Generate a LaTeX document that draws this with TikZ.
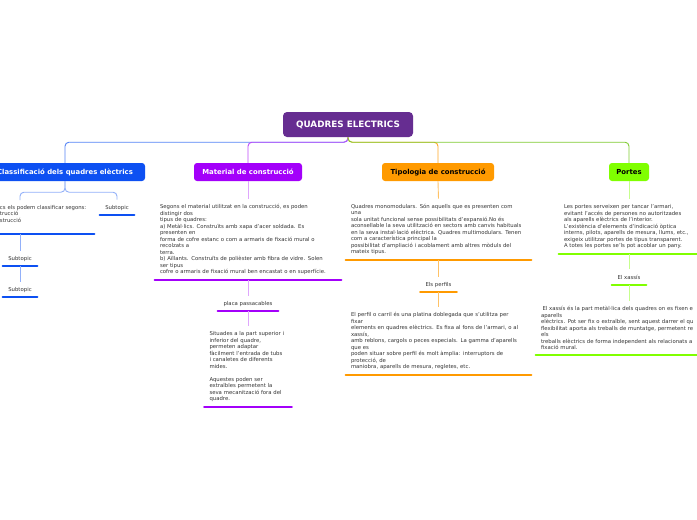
\documentclass[tikz,border=0pt]{standalone}
\usepackage{fontspec}
\setmainfont{DejaVu Sans}
\usepackage{tikz}
\usetikzlibrary{calc}

\definecolor{rootc}{HTML}{662D91}
\definecolor{bluec}{HTML}{0D50F2}
\definecolor{purpc}{HTML}{A300FA}
\definecolor{orngc}{HTML}{FF9A00}
\definecolor{grenc}{HTML}{80FF00}
\newcommand{\cutl}{\hspace*{49pt}}

\begin{document}
\begin{tikzpicture}[x=1pt,y=-1pt,
  font=\fontsize{5.35}{6.5}\selectfont,
  root/.style={fill=rootc,rounded corners=4pt,text=white,
               font=\fontsize{8.8}{10}\selectfont\bfseries,
               minimum width=130pt,minimum height=25pt},
  topic/.style={rounded corners=3pt,font=\fontsize{6.9}{8}\selectfont\bfseries,
                minimum height=18pt,inner xsep=2pt},
  note/.style={anchor=south,align=left,inner xsep=5pt,inner ysep=5pt,
               text=black!80},
  lab/.style={anchor=south,inner xsep=0pt,inner ysep=5.5pt,text depth=0pt,
              text=black!80},
  bar/.style={line width=2.6pt,line cap=round},
  link/.style={line width=0.9pt,rounded corners=4pt},
]
\clip (0,0) rectangle (697,520);
\fill[white] (0,0) rectangle (697,520);

% ---- centre and main topics --------------------------------------------
\node[root] (root) at (348,124.5) {QUADRES ELECTRICS};
\node[topic,fill=bluec,text=white,minimum width=160pt] (cls) at (65,172)
  {Classificació dels quadres elèctrics};
\node[topic,fill=purpc,text=white,minimum width=108pt] (mat) at (248,172)
  {Material de construcció};
\node[topic,fill=orngc,text=black,minimum width=112pt] (tip) at (438,172)
  {Tipologia de construcció};
\node[topic,fill=grenc,text=black,minimum width=40pt] (por) at (629,172)
  {Portes};

\draw[link,bluec!70!white] (root.south) -- ++(0,5) -| (cls.north);
\draw[link,purpc!70!white] (root.south) -- ++(0,5) -| (mat.north);
\draw[link,orngc!85!white] (root.south) -- ++(0,5) -| (tip.north);
\draw[link,grenc!75!black!80!white] (root.south) -- ++(0,5) -| (por.north);

% ---- classificacio ------------------------------------------------------
\node[note,text width=138pt] (cln) at (20,234)
  {\cutl cs els podem classificar segons:\\
   \cutl trucció\\
   \cutl strucció\\ ~};
\node[lab,minimum width=34pt] (sb1) at (117,215) {Subtopic};
\node[lab,minimum width=34pt] (sb2) at (20,266) {Subtopic};
\node[lab,minimum width=34pt] (sb3) at (20,297) {Subtopic};
\foreach \n in {cln,sb1,sb2,sb3}
  \draw[bar,bluec] (\n.south west) -- (\n.south east);
\draw[link,bluec!45!white] (cls.south) -- ++(0,11) -| (cln.north);
\draw[link,bluec!45!white] (cls.south) -- ++(0,11) -| (sb1.north);
\draw[link,bluec!45!white] (cln.south) -- (sb2.north);
\draw[link,bluec!45!white] (sb2.south) -- (sb3.north);

% ---- material -----------------------------------------------------------
\node[note,text width=176pt] (mtx) at (248,280)
  {Segons el material utilitzat en la construcció, es poden\\
   distingir dos\\
   tipus de quadres:\\
   a) Metàl·lics. Construïts amb xapa d'acer soldada. Es\\
   presenten en\\
   forma de cofre estanc o com a armaris de fixació mural o\\
   recolzats a\\
   terra.\\
   b) Aïllants. Construïts de polièster amb fibra de vidre. Solen\\
   ser tipus\\
   cofre o armaris de fixació mural ben encastat o en superfície.};
\node[lab,minimum width=60pt] (plc) at (248,311) {placa passacables};
\node[note,text width=77pt] (ptx) at (248,407)
  {Situades a la part superior i\\
   inferior del quadre,\\
   permeten adaptar\\
   fàcilment l'entrada de tubs\\
   i canaletes de diferents\\
   mides.\\[6.5pt]
   Aquestes poden ser\\
   extraïbles permetent la\\
   seva mecanització fora del\\
   quadre.};
\foreach \n in {mtx,plc,ptx}
  \draw[bar,purpc] (\n.south west) -- (\n.south east);
\draw[link,purpc!35!white] (mat.south) -- (mtx.north);
\draw[link,purpc!35!white] (mtx.south) -- (plc.north);
\draw[link,purpc!35!white] (plc.south) -- (ptx.north);

% ---- tipologia ----------------------------------------------------------
\node[note,text width=175pt] (ttx) at (438.5,260)
  {Quadres monomodulars. Són aquells que es presenten com\\
   una\\
   sola unitat funcional sense possibilitats d'expansió.No és\\
   aconsellable la seva utilització en sectors amb canvis habituals\\
   en la seva instal·lació elèctrica. Quadres multimodulars. Tenen\\
   com a característica principal la\\
   possibilitat d'ampliació i acoblament amb altres mòduls del\\
   mateix tipus.};
\node[lab,minimum width=36pt] (prf) at (438.5,292) {Els perfils};
\node[note,text width=175pt] (rtx) at (438.5,375)
  {El perfil o carril és una platina doblegada que s'utilitza per\\
   fixar\\
   elements en quadres elèctrics. Es fixa al fons de l'armari, o al\\
   xassís,\\
   amb reblons, cargols o peces especials. La gamma d'aparells\\
   que es\\
   poden situar sobre perfil és molt àmplia: interruptors de\\
   protecció, de\\
   maniobra, aparells de mesura, regletes, etc.};
\foreach \n in {ttx,prf,rtx}
  \draw[bar,orngc] (\n.south west) -- (\n.south east);
\draw[link,orngc!60!white] (tip.south) -- (ttx.north);
\draw[link,orngc!60!white] (ttx.south) -- (prf.north);
\draw[link,orngc!60!white] (prf.south) -- (rtx.north);

% ---- portes -------------------------------------------------------------
\node[note,text width=130pt] (gtx) at (629,254)
  {Les portes serveixen per tancar l'armari,\\
   evitant l'accés de persones no autoritzades\\
   als aparells elèctrics de l'interior.\\
   L'existència d'elements d'indicació òptica\\
   interns, pilots, aparells de mesura, llums, etc.,\\
   exigeix utilitzar portes de tipus transparent.\\
   A totes les portes se'ls pot acoblar un pany.};
\node[lab,minimum width=34pt] (xas) at (629,285) {El xassís};
\node[note,text width=176pt] (xtx) at (629,355)
  {\hspace*{1.5pt}El xassís és la part metàl·lica dels quadres on es fixen e\\
   aparells\\
   elèctrics. Pot ser fix o extraïble, sent aquest darrer el qu\\
   flexibilitat aporta als treballs de muntatge, permetent re\\
   els\\
   treballs elèctrics de forma independent als relacionats a\\
   fixació mural.};
\foreach \n in {gtx,xas,xtx}
  \draw[bar,grenc] (\n.south west) -- (\n.south east);
\draw[link,grenc!45!white] (por.south) -- (gtx.north);
\draw[link,grenc!45!white] (gtx.south) -- (xas.north);
\draw[link,grenc!45!white] (xas.south) -- (xtx.north);
\end{tikzpicture}
\end{document}
